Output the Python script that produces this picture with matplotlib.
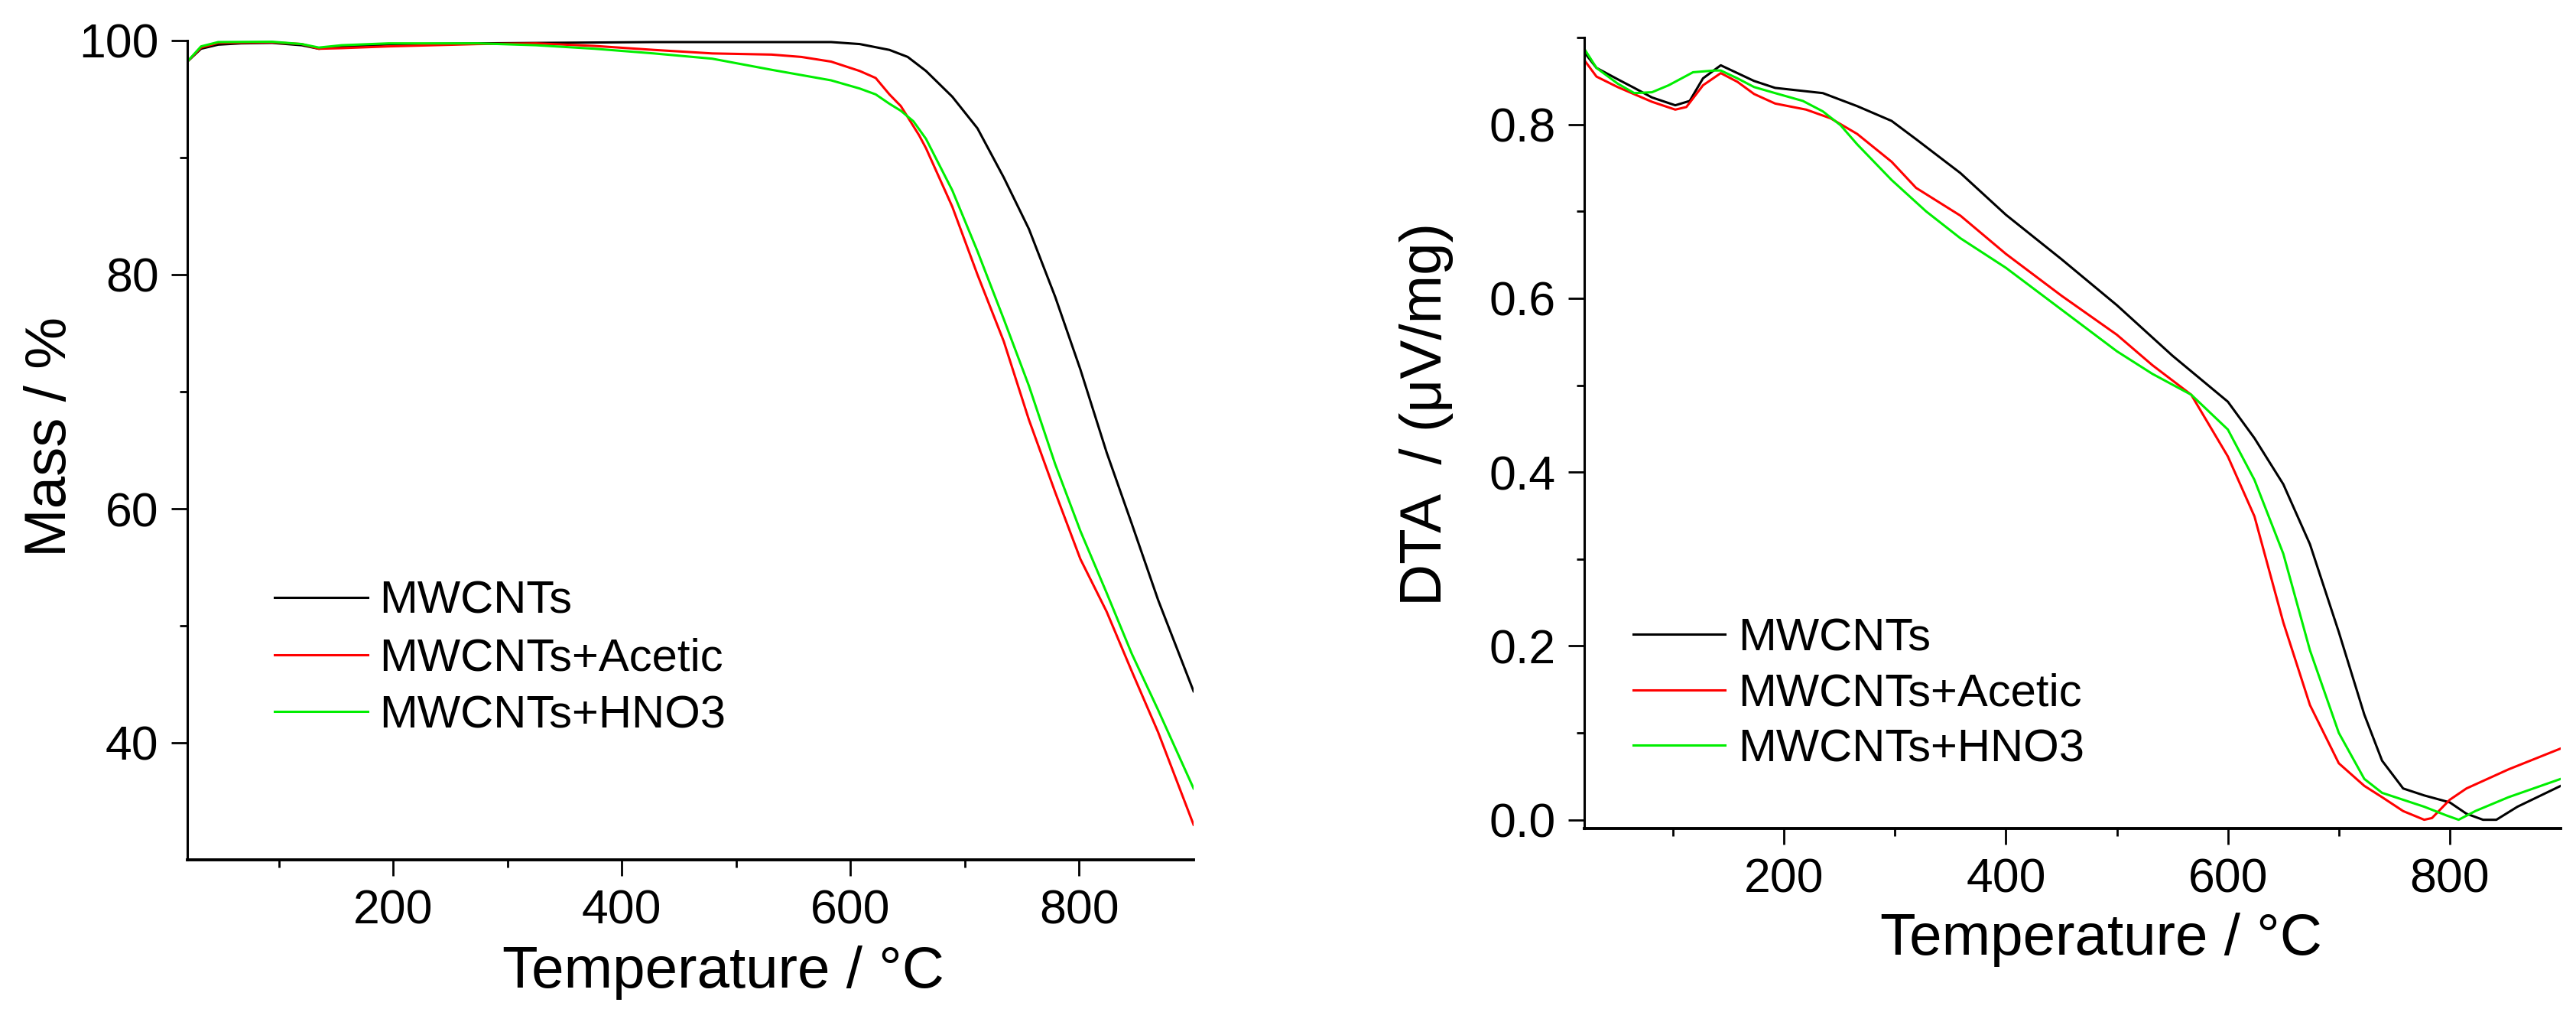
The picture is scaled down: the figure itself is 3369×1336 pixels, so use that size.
import matplotlib
matplotlib.use('Agg')
import matplotlib.pyplot as plt

plt.rcParams['font.family'] = ['Liberation Sans', 'DejaVu Sans']

labels = ['MWCNTs', 'MWCNTs+Acetic', 'MWCNTs+HNO3']
colors = ['#000000', '#ff0000', '#00ee00']

# TGA (mass %)
tga_t_black = [20, 32, 47, 67, 94, 120, 135, 155, 196, 274, 428, 583, 608, 634, 650, 666,
               689, 711, 734, 756, 779, 801, 824, 846, 869, 900]
tga_m_black = [98.2, 99.3, 99.65, 99.76, 99.8, 99.6, 99.3, 99.5, 99.67, 99.76, 99.87, 99.87,
               99.7, 99.2, 98.6, 97.4, 95.2, 92.5, 88.3, 83.9, 78.1, 71.9, 64.8, 58.7, 52.2, 44.4]

tga_t_red = [20, 32, 47, 94, 120, 135, 155, 196, 274, 325, 376, 428, 479, 531, 557, 583, 608,
             622, 634, 644, 660, 666, 689, 711, 734, 756, 779, 801, 824, 846, 869, 900]
tga_m_red = [98.2, 99.4, 99.8, 99.85, 99.7, 99.3, 99.35, 99.5, 99.7, 99.76, 99.54, 99.2, 98.9,
             98.8, 98.6, 98.2, 97.4, 96.8, 95.4, 94.4, 91.9, 90.8, 85.8, 80.0, 74.3, 67.6, 61.4,
             55.7, 51.2, 46.1, 40.9, 33.0]

tga_t_green = [20, 32, 47, 94, 120, 135, 155, 196, 274, 325, 376, 428, 479, 531, 583, 608, 622,
               634, 644, 655, 666, 689, 711, 734, 756, 779, 801, 824, 846, 869, 900]
tga_m_green = [98.2, 99.5, 99.87, 99.9, 99.7, 99.4, 99.6, 99.76, 99.76, 99.6, 99.3, 98.9, 98.45,
               97.5, 96.6, 95.9, 95.4, 94.6, 94.0, 93.1, 91.6, 87.2, 82.0, 76.2, 70.5, 63.8,
               58.1, 52.8, 47.6, 42.8, 36.1]

# DTA (uV/mg)
dta_t_black = [20, 31, 50, 65, 81, 102, 115, 127, 143, 158, 173, 192, 235, 266, 297, 319, 359,
               400, 450, 500, 550, 600, 624, 650, 674, 700, 723, 739, 758, 777, 800, 815, 830,
               842, 861, 900]
dta_v_black = [0.883, 0.865, 0.852, 0.842, 0.831, 0.822, 0.827, 0.853, 0.868, 0.859, 0.850,
               0.842, 0.836, 0.821, 0.804, 0.783, 0.744, 0.696, 0.645, 0.592, 0.534, 0.481,
               0.439, 0.386, 0.317, 0.216, 0.121, 0.068, 0.036, 0.028, 0.020, 0.007, 0.0, 0.0,
               0.015, 0.039]

dta_t_red = [20, 31, 50, 81, 102, 112, 127, 143, 158, 173, 192, 220, 242, 266, 297, 319, 359,
             400, 450, 500, 532, 567, 600, 624, 650, 674, 700, 723, 739, 758, 777, 784, 800,
             815, 853, 900]
dta_v_red = [0.874, 0.855, 0.843, 0.826, 0.817, 0.820, 0.845, 0.859, 0.849, 0.835, 0.824,
             0.817, 0.807, 0.789, 0.757, 0.727, 0.695, 0.651, 0.603, 0.558, 0.523, 0.489,
             0.418, 0.349, 0.227, 0.132, 0.065, 0.039, 0.026, 0.010, 0.0, 0.002, 0.023, 0.036,
             0.058, 0.082]

dta_t_green = [20, 31, 50, 65, 81, 96, 118, 137, 143, 158, 173, 192, 217, 235, 251, 266, 297,
               328, 359, 400, 450, 500, 532, 567, 600, 624, 650, 674, 700, 723, 739, 758, 777,
               797, 808, 823, 853, 900]
dta_v_green = [0.887, 0.865, 0.847, 0.836, 0.837, 0.845, 0.860, 0.862, 0.862, 0.853, 0.843,
               0.836, 0.827, 0.815, 0.799, 0.777, 0.736, 0.700, 0.669, 0.635, 0.587, 0.539,
               0.513, 0.489, 0.449, 0.391, 0.306, 0.195, 0.100, 0.047, 0.031, 0.023, 0.015,
               0.005, 0.0, 0.010, 0.026, 0.047]

W, H = 3369, 1336
fig = plt.figure(figsize=(W / 100, H / 100), dpi=100)

ax1 = fig.add_axes([245 / W, 1 - 1124 / H, 1316 / W, 1071 / H])
ax2 = fig.add_axes([2072 / W, 1 - 1083 / H, 1277 / W, 1034 / H])

lw = 2.2
tga = [(tga_t_black, tga_m_black), (tga_t_red, tga_m_red), (tga_t_green, tga_m_green)]
dta = [(dta_t_black, dta_v_black), (dta_t_red, dta_v_red), (dta_t_green, dta_v_green)]
for (t, m), lab, c in zip(tga, labels, colors):
    ax1.plot(t, m, color=c, lw=lw, label=lab)
for (t, v), lab, c in zip(dta, labels, colors):
    ax2.plot(t, v, color=c, lw=lw, label=lab)

ax1.set_xlim(20, 900)
ax1.set_ylim(30, 100)
ax1.set_xticks([200, 400, 600, 800])
ax1.set_xticks([100, 300, 500, 700], minor=True)
ax1.set_yticks([40, 60, 80, 100])
ax1.set_yticks([50, 70, 90], minor=True)

ax2.set_xlim(20, 900)
ax2.set_ylim(-0.01, 0.9)
ax2.set_xticks([200, 400, 600, 800])
ax2.set_xticks([100, 300, 500, 700], minor=True)
ax2.set_yticks([0.0, 0.2, 0.4, 0.6, 0.8])
ax2.set_yticks([0.1, 0.3, 0.5, 0.7, 0.9], minor=True)
ax2.set_yticklabels(['0.0', '0.2', '0.4', '0.6', '0.8'])

for ax in (ax1, ax2):
    ax.spines['top'].set_visible(False)
    ax.spines['right'].set_visible(False)
    ax.spines['left'].set_linewidth(2.2)
    ax.spines['bottom'].set_linewidth(2.8)
    ax.tick_params(which='major', direction='out', length=15, width=2, labelsize=45, pad=12)
    ax.tick_params(which='minor', direction='out', length=7, width=2)
    ax.set_xlabel('Temperature / °C', fontsize=55)

ax1.set_ylabel('Mass / %', fontsize=55)
ax2.set_ylabel('DTA  / (μV/mg)', fontsize=55)
ax1.xaxis.set_label_coords(0.533, -0.105)
ax2.xaxis.set_label_coords(0.529, -0.106)
ax1.yaxis.set_label_coords(-0.109, 0.516)
ax2.yaxis.set_label_coords(-0.134, 0.524)

ax1.legend(loc='center left', bbox_to_anchor=(0.0866, 0.2456), frameon=False, fontsize=43,
           handlelength=2.05, handletextpad=0.25, labelspacing=0.33, borderpad=0, borderaxespad=0)
ax2.legend(loc='center left', bbox_to_anchor=(0.0505, 0.170), frameon=False, fontsize=43,
           handlelength=2.0, handletextpad=0.28, labelspacing=0.29, borderpad=0, borderaxespad=0)

fig.savefig('out.png', dpi=100)
